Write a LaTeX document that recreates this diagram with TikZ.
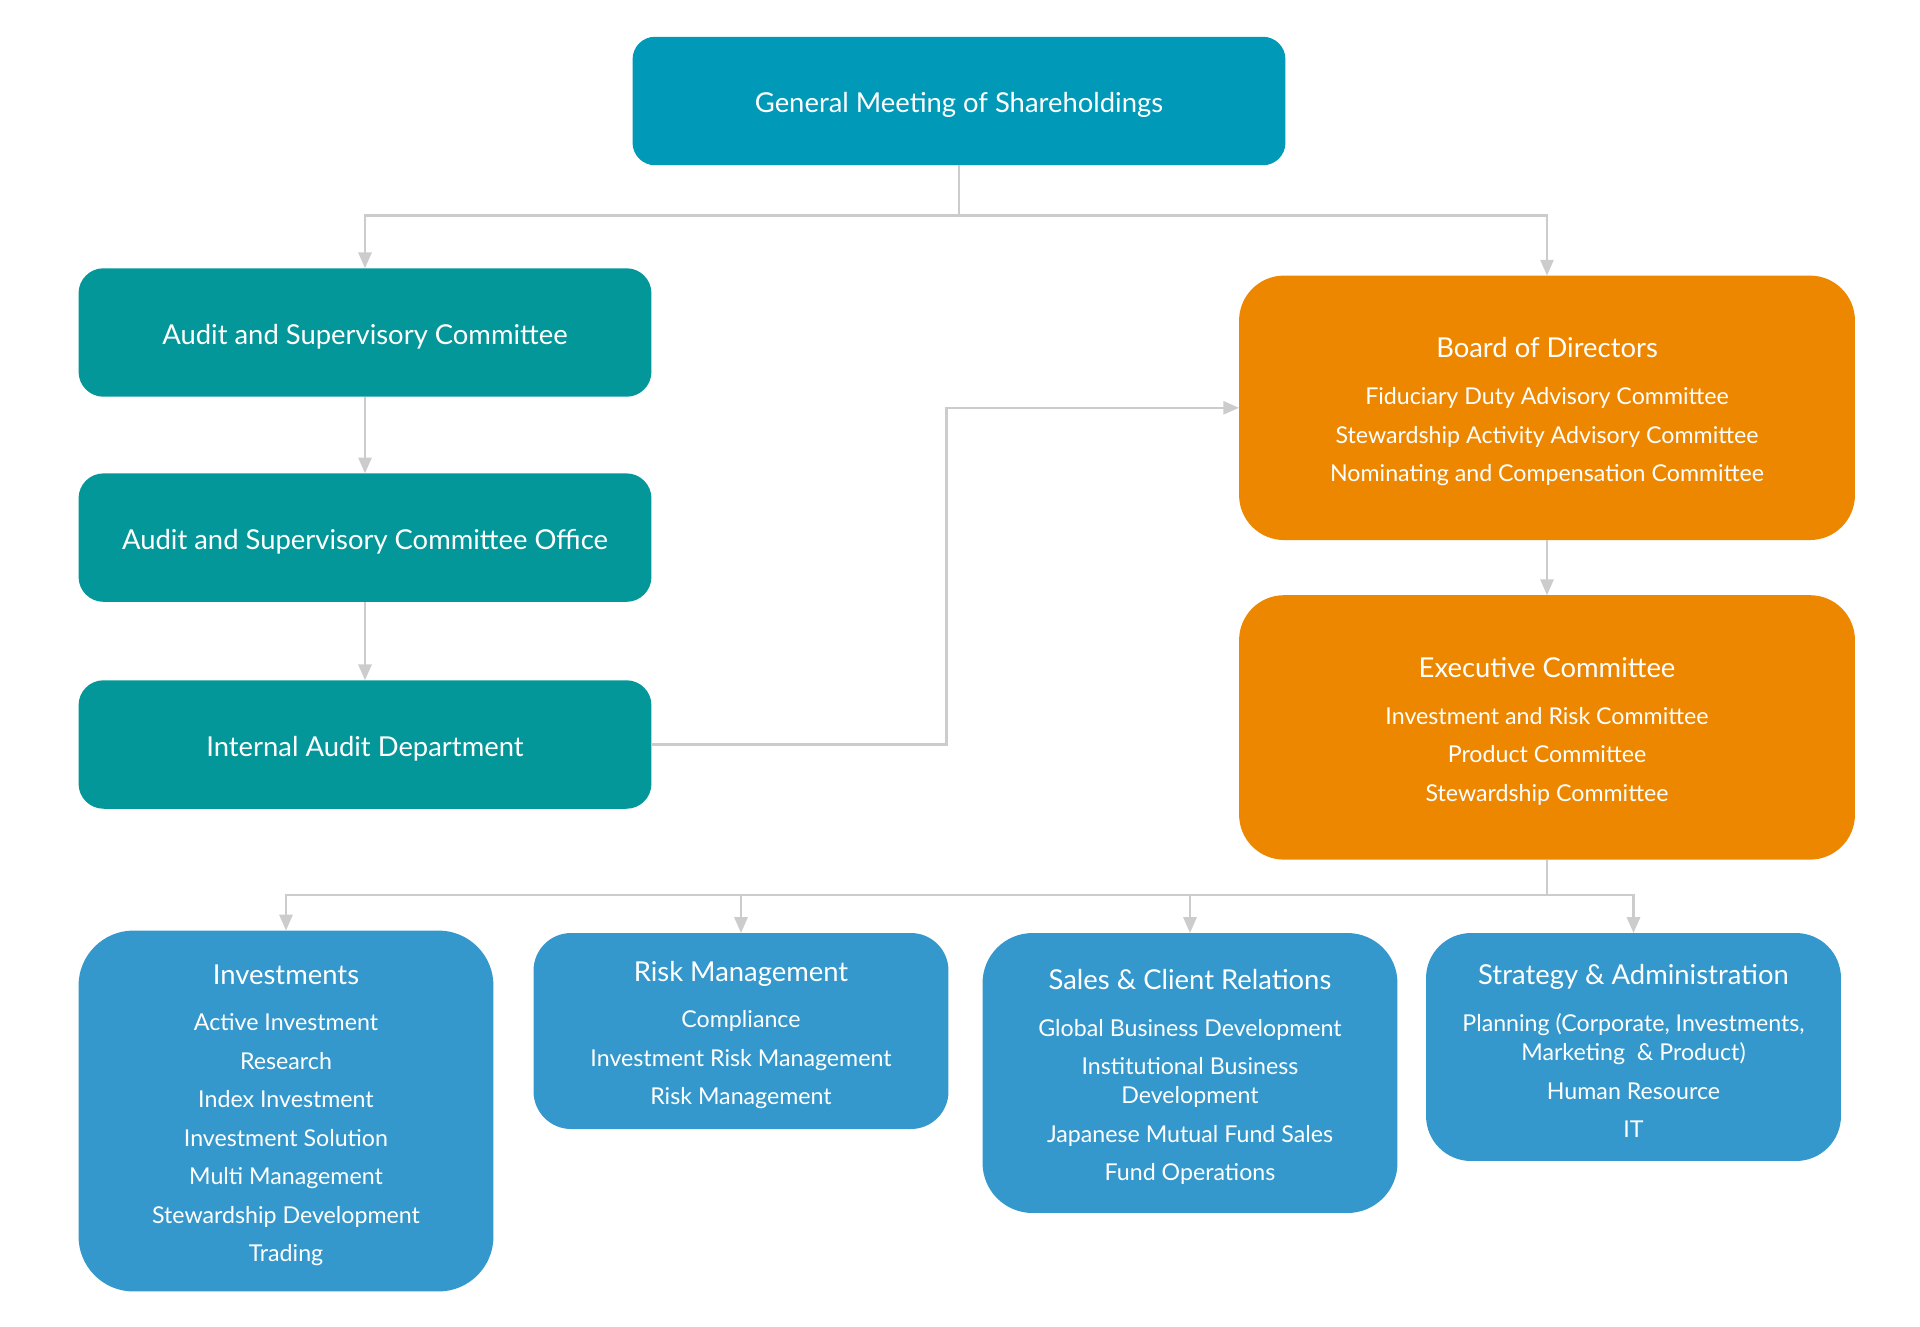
\documentclass[tikz,border=0pt]{standalone}
\usepackage{fontspec}
\setmainfont{Lato}
\usepackage{xcolor}
\usetikzlibrary{calc, arrows.meta}

\definecolor{gmblue}{HTML}{009AB8}
\definecolor{auditteal}{HTML}{04979A}
\definecolor{boardorange}{HTML}{EE8700}
\definecolor{deptblue}{HTML}{3498CC}
\definecolor{linegray}{HTML}{CCCCCC}

\newcommand{\boxhead}[1]{{\fontsize{15.6}{18}\selectfont\rule{0pt}{16pt}#1}}

\tikzset{
	box/.style={rounded corners=0.5cm, text=white, inner sep=0pt, outer sep=0pt, align=center},
	topbox/.style={box, fill=gmblue, rounded corners=0.45cm, minimum width=13.06cm, minimum height=2.57cm, font=\fontsize{15.6}{18}\selectfont},
	auditbox/.style={box, fill=auditteal, minimum width=11.46cm, minimum height=2.57cm, font=\fontsize{15.6}{18}\selectfont},
	boardbox/.style={box, fill=boardorange, rounded corners=0.9cm, minimum width=12.32cm, minimum height=5.29cm, font=\fontsize{13.2}{16.7}\selectfont},
	deptbox/.style={box, fill=deptblue, rounded corners=0.95cm, minimum width=8.3cm, font=\fontsize{13.2}{16.7}\selectfont},
	link/.style={-{Stealth[length=9pt, width=7.5pt, inset=0pt]}, draw=linegray, line width=1.3pt},
}

\begin{document}
\begin{tikzpicture}[x=0.02cm, y=-0.02cm]
		\useasboundingbox (0,0) rectangle (1920,1326);
		
		\node [topbox] (gm) at (959,101) {\boxhead{General Meeting of Shareholdings}};
		
		\node [auditbox] (asc) at (365,332.5) {\boxhead{Audit and Supervisory Committee}};
		\node [auditbox] (asco) at (365,537.6) {\boxhead{Audit and Supervisory Committee Office}};
		\node [auditbox] (iad) at (365,744.5) {\boxhead{Internal Audit Department}};
		
		\node [boardbox] (bod) at (1547,407.8) {\boxhead{Board of Directors}\\[10pt]
			Fiduciary Duty Advisory Committee\\[5.2pt]
			Stewardship Activity Advisory Committee\\[5.2pt]
			Nominating and Compensation Committee};
		\node [boardbox] (ec) at (1547,727.4) {\boxhead{Executive Committee}\\[10pt]
			Investment and Risk Committee\\[5.2pt]
			Product Committee\\[5.2pt]
			Stewardship Committee};
		
		\node [deptbox, minimum height=7.22cm, rounded corners=1.1cm] (inv) at (286,1111) {\boxhead{Investments}\\[10pt]
			Active Investment\\[5.2pt]
			Research\\[5.2pt]
			Index Investment\\[5.2pt]
			Investment Solution\\[5.2pt]
			Multi Management\\[5.2pt]
			Stewardship Development\\[5.2pt]
			Trading};
		\node [deptbox, minimum height=3.92cm, rounded corners=0.75cm] (risk) at (741,1031) {\boxhead{Risk Management}\\[10pt]
			Compliance\\[5.2pt]
			Investment Risk Management\\[5.2pt]
			Risk Management};
		\node [deptbox, minimum height=5.6cm, rounded corners=1cm] (sales) at (1190,1073) {\boxhead{Sales \& Client Relations}\\[10pt]
			Global Business Development\\[5.2pt]
			Institutional Business\\
			Development\\[5.2pt]
			Japanese Mutual Fund Sales\\[5.2pt]
			Fund Operations};
		\node [deptbox, minimum height=4.56cm, rounded corners=0.9cm] (strat) at (1633.5,1047) {\boxhead{Strategy \& Administration}\\[10pt]
			Planning (Corporate, Investments,\\
			Marketing~~\& Product)\\[5.2pt]
			Human Resource\\[5.2pt]
			IT};
		
		\coordinate (gmbus) at (959,215.5);
		\coordinate (bend) at (946.5,744.5);
		\coordinate (ecbus) at (1547,895);
		
		\draw [linegray, line width=1.3pt] (gm) -- (gmbus);
		\draw [link] (gmbus) -| (asc.north);
		\draw [link] (gmbus) -| (bod.north);
		
		\draw [link] (asc) -- (asco);
		\draw [link] (asco) -- (iad);
		\draw [link] (iad.east) -- (iad.east -| bend) |- (bod.west);
		
		\draw [link] (bod) -- (ec);
		
		\draw [linegray, line width=1.3pt] (ec) -- (ecbus);
		\foreach \dept in {inv, risk, sales, strat}
			\draw [link] (ecbus) -| (\dept.north);
	\end{tikzpicture}
\end{document}
